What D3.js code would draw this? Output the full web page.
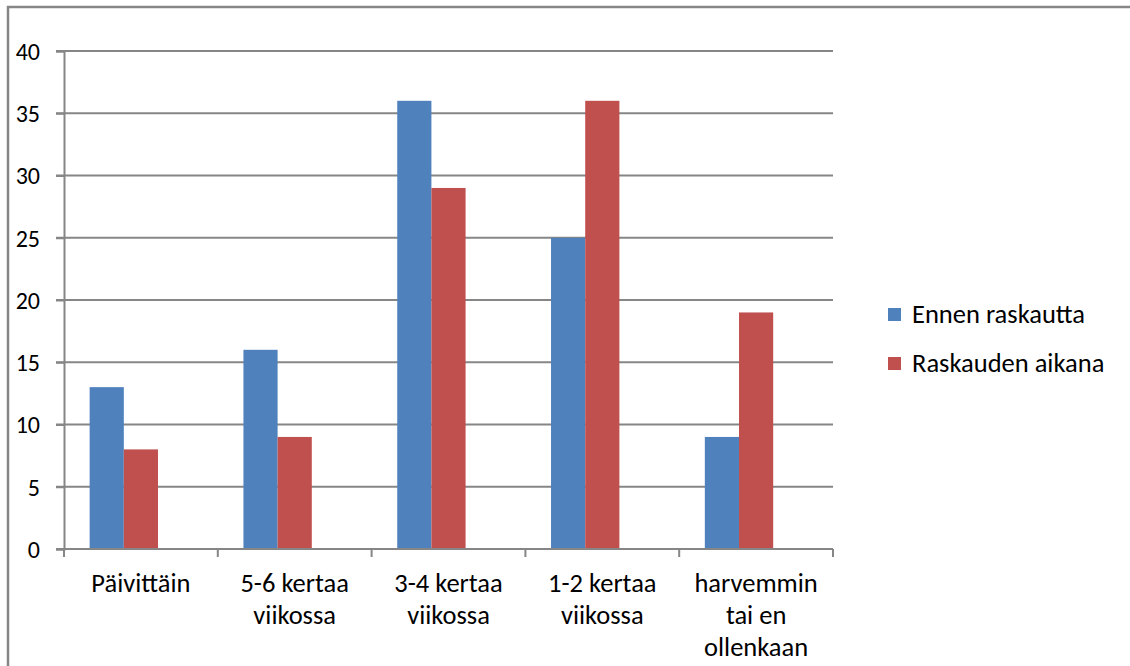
<!DOCTYPE html>
<html lang="fi">
<head>
<meta charset="utf-8">
<title>Liikunta ennen raskautta ja raskauden aikana</title>
<script src="https://d3js.org/d3.v7.min.js"></script>
<style>
body { margin: 0; background: #fff; }
svg { display: block; font-family: Carlito, Calibri, Lato, sans-serif; }
.grid line { stroke: #868686; stroke-width: 2px; }
.axis path, .axis line { stroke: #868686; stroke-width: 2px; }
.axis text { fill: #000; font-family: Carlito, Calibri, Lato, sans-serif; }
</style>
</head>
<body>
<script>

// data
var categories = ["Päivittäin", "5-6 kertaa viikossa", "3-4 kertaa viikossa", "1-2 kertaa viikossa", "harvemmin tai en ollenkaan"];
var labelLines = [["Päivittäin"], ["5-6 kertaa", "viikossa"], ["3-4 kertaa", "viikossa"], ["1-2 kertaa", "viikossa"], ["harvemmin", "tai en", "ollenkaan"]];
var seriesNames = ["Ennen raskautta", "Raskauden aikana"];
var ennen = [13, 16, 36, 25, 9];
var raskauden = [8, 9, 29, 36, 19];
var yTicks = [0, 5, 10, 15, 20, 25, 30, 35, 40];
var colors = ["#4f81bd", "#c0504d"];

var W = 1130, H = 666;
var plot = {left: 64, right: 833, top: 51, bottom: 549};
var fs = "26.5px";

var svg = d3.select("body").append("svg")
    .attr("width", W)
    .attr("height", H);

// chart frame (runs off the right and bottom edge)
svg.append("rect")
    .attr("x", 8).attr("y", 7)
    .attr("width", 1200).attr("height", 700)
    .attr("fill", "none")
    .attr("stroke", "#868686")
    .attr("stroke-width", 2.5);

var x = d3.scaleBand().domain(categories).range([plot.left, plot.right]);
var y = d3.scaleLinear().domain([0, 40]).range([plot.bottom, plot.top]);

// gridlines
svg.append("g").attr("class", "grid")
  .selectAll("line")
  .data(yTicks.filter(function(d) { return d > 0; }))
  .enter().append("line")
    .attr("x1", plot.left - 8).attr("x2", plot.right)
    .attr("y1", function(d) { return y(d); })
    .attr("y2", function(d) { return y(d); });

// bars - excel layout: room for 3 bars + 150% gap, only 2 series drawn
var barW = x.bandwidth() / (3 + 1.5);
var series = [ennen, raskauden];
series.forEach(function(vals, s) {
  svg.append("g")
    .selectAll("rect")
    .data(vals)
    .enter().append("rect")
      .attr("x", function(d, i) { return x(categories[i]) + barW * 0.75 + s * barW; })
      .attr("y", function(d) { return y(d); })
      .attr("width", barW)
      .attr("height", function(d) { return y(0) - y(d); })
      .attr("fill", colors[s]);
});

// y axis
var yAxis = d3.axisLeft(y).tickValues(yTicks).tickSize(8).tickPadding(16);
var yg = svg.append("g").attr("class", "axis")
    .attr("transform", "translate(" + plot.left + ",0)")
    .call(yAxis);
yg.attr("font-family", null);
yg.selectAll("text").style("font-size", "24px").attr("dy", "0.35em");

// x axis, ticks on band edges
var xEdges = categories.map(function(c) { return x(c); }).concat([plot.right]);
var xg = svg.append("g").attr("class", "axis");
xg.append("line")
    .attr("x1", plot.left - 8).attr("x2", plot.right)
    .attr("y1", plot.bottom).attr("y2", plot.bottom);
xg.selectAll(".tk")
  .data(xEdges)
  .enter().append("line")
    .attr("class", "tk")
    .attr("x1", function(d) { return d; }).attr("x2", function(d) { return d; })
    .attr("y1", plot.bottom).attr("y2", plot.bottom + 8);

var labels = svg.append("g")
  .selectAll("text")
  .data(categories)
  .enter().append("text")
    .attr("x", function(d) { return x(d) + x.bandwidth() / 2; })
    .attr("y", 592)
    .attr("text-anchor", "middle")
    .style("font-size", fs);
labels.each(function(d, i) {
  var t = d3.select(this);
  labelLines[i].forEach(function(line, j) {
    t.append("tspan")
      .attr("x", x(d) + x.bandwidth() / 2)
      .attr("dy", j === 0 ? 0 : 32)
      .text(line);
  });
});

// legend
var legend = svg.append("g")
  .selectAll("g")
  .data(seriesNames)
  .enter().append("g")
    .attr("transform", function(d, i) { return "translate(888," + (314 + i * 49) + ")"; });
legend.append("rect")
    .attr("x", 0).attr("y", -6)
    .attr("width", 13).attr("height", 13)
    .attr("fill", function(d, i) { return colors[i]; });
legend.append("text")
    .attr("x", 24).attr("y", 0)
    .attr("dy", "0.35em")
    .style("font-size", fs)
    .text(function(d) { return d; });

</script>
</body>
</html>
